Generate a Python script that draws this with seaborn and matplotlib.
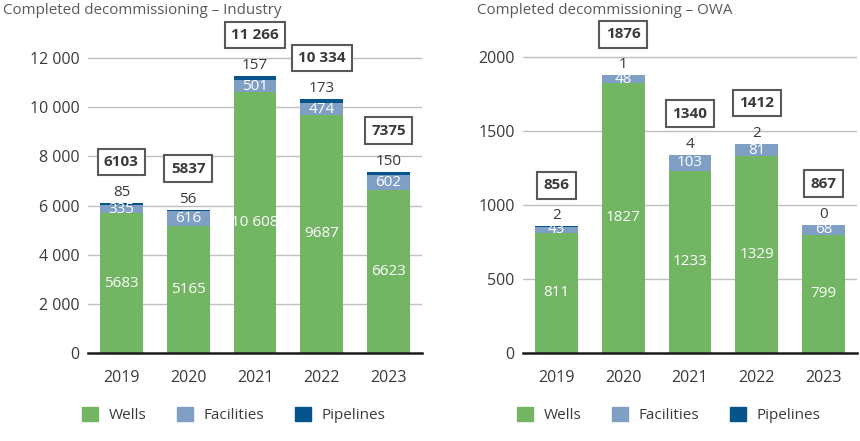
import matplotlib
matplotlib.use("Agg")
import matplotlib.pyplot as plt
import seaborn as sns
import numpy as np
from matplotlib.patches import Patch

years = ["2019", "2020", "2021", "2022", "2023"]

ind_wells = [5683, 5165, 10608, 9687, 6623]
ind_facilities = [335, 616, 501, 474, 602]
ind_pipelines = [85, 56, 157, 173, 150]
ind_totals = [6103, 5837, 11266, 10334, 7375]
ind_well_labels = ["5683", "5165", "10 608", "9687", "6623"]
ind_total_labels = ["6103", "5837", "11 266", "10 334", "7375"]

owa_wells = [811, 1827, 1233, 1329, 799]
owa_facilities = [43, 48, 103, 81, 68]
owa_pipelines = [2, 1, 4, 2, 0]
owa_totals = [856, 1876, 1340, 1412, 867]

ind_yticks = [0, 2000, 4000, 6000, 8000, 10000, 12000]
ind_yticklabels = ["0", "2 000", "4 000", "6 000", "8 000", "10 000", "12 000"]
owa_yticks = [0, 500, 1000, 1500, 2000]
owa_yticklabels = ["0", "500", "1000", "1500", "2000"]

series_names = ["Wells", "Facilities", "Pipelines"]

C_WELLS = "#72b563"
C_FAC = "#809fc4"
C_PIPE = "#05548c"
TXT = "#3a3a3a"

sns.set_theme(style="white")
plt.rcParams["font.family"] = ["Open Sans", "DejaVu Sans"]

fig = plt.figure(figsize=(8.6, 4.41), dpi=100)

def panel(rect, wells, fac, pipe, totals, well_labels, total_labels,
          yticks, yticklabels, ytop, title, title_x, legend_x):
    ax = fig.add_axes(rect)
    w = np.array(wells)
    f = np.array(fac)
    p = np.array(pipe)
    cum_wf = w + f
    cum_all = w + f + p
    for yt in yticks[1:]:
        ax.axhline(yt, color="#bfbfbf", lw=1.0, zorder=0)
    sns.barplot(x=years, y=cum_all, color=C_PIPE, saturation=1, width=0.64,
                ax=ax, zorder=2, linewidth=0, edgecolor="none")
    sns.barplot(x=years, y=cum_wf, color=C_FAC, saturation=1, width=0.64,
                ax=ax, zorder=3, linewidth=0, edgecolor="none")
    sns.barplot(x=years, y=w, color=C_WELLS, saturation=1, width=0.64,
                ax=ax, zorder=4, linewidth=0, edgecolor="none")
    for i in range(len(years)):
        ax.text(i, w[i] / 2, well_labels[i], ha="center", va="center",
                color="white", fontsize=11, zorder=6)
        ax.text(i, w[i] + f[i] / 2, str(f[i]), ha="center", va="center",
                color="white", fontsize=11, zorder=6)
        ax.annotate(str(p[i]), (i, totals[i]), xytext=(0, 7.5),
                    textcoords="offset points", ha="center", va="center",
                    color=TXT, fontsize=11, zorder=6, annotation_clip=False)
        ax.annotate(total_labels[i], (i, totals[i]), xytext=(0, 29.5),
                    textcoords="offset points", ha="center", va="center",
                    color=TXT, fontsize=11, fontweight="bold", zorder=6,
                    annotation_clip=False,
                    bbox=dict(boxstyle="square,pad=0.42", fc="white",
                              ec="#595959", lw=1.5))
    ax.set_xlim(-0.5, 4.5)
    ax.set_ylim(0, ytop)
    ax.set_yticks(yticks)
    ax.set_yticklabels(yticklabels)
    ax.tick_params(axis="y", length=0, labelsize=11.5, labelcolor=TXT, pad=6)
    ax.tick_params(axis="x", length=0, labelsize=11.5, labelcolor=TXT, pad=12)
    for lab in ax.get_xticklabels() + ax.get_yticklabels():
        lab.set_fontweight("medium")
    for s in ["top", "right", "left"]:
        ax.spines[s].set_visible(False)
    ax.spines["bottom"].set_color("#1a1a1a")
    ax.spines["bottom"].set_linewidth(1.8)
    ax.spines["bottom"].set_zorder(7)
    ax.set_xlabel("")
    ax.set_ylabel("")
    fig.text(title_x, 1 - 10 / 441, title, ha="left", va="center",
             fontsize=10.9, color="#595959")
    handles = [Patch(color=c) for c in (C_WELLS, C_FAC, C_PIPE)]
    fig.legend(handles, series_names, loc="center",
               bbox_to_anchor=(legend_x, 1 - 415 / 441), ncol=3, frameon=False,
               fontsize=11, handlelength=1.05, handleheight=1.05,
               handletextpad=0.7, columnspacing=2.0, labelcolor=TXT)
    return ax

panel([88 / 860, 1 - 353 / 441, 334 / 860, 333 / 441],
      ind_wells, ind_facilities, ind_pipelines, ind_totals,
      ind_well_labels, ind_total_labels,
      ind_yticks, ind_yticklabels, 333 / 295 * 12000,
      "Completed decommissioning \u2013 Industry", 3 / 860, 234 / 860)

panel([523 / 860, 1 - 353 / 441, 334 / 860, 333 / 441],
      owa_wells, owa_facilities, owa_pipelines, owa_totals,
      [str(v) for v in owa_wells], [str(v) for v in owa_totals],
      owa_yticks, owa_yticklabels, 333 / 296 * 2000,
      "Completed decommissioning \u2013 OWA", 477 / 860, 669 / 860)

fig.savefig("out.png", dpi=100)
